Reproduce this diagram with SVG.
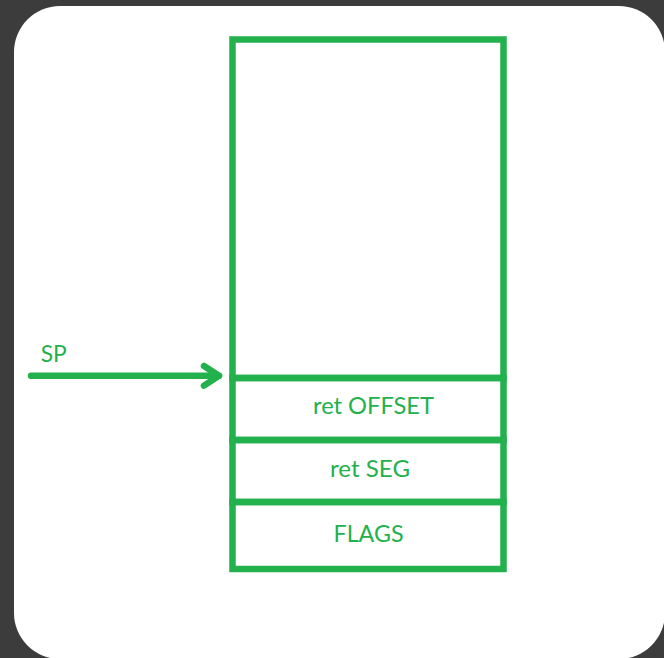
<svg xmlns="http://www.w3.org/2000/svg" width="664" height="658" viewBox="0 0 664 658">
<style>
.box{fill:none;stroke:#22b14c;stroke-width:6.5}
.lbl{fill:#22b14c;font-family:Lato,"Open Sans","Liberation Sans",sans-serif;font-size:23px;text-anchor:middle}
.conn{fill:none;stroke:#22b14c;stroke-width:6.5;stroke-linecap:round;stroke-linejoin:round}
</style>
<rect x="0" y="0" width="664" height="658" fill="#3c3c3c"/>
<rect x="14" y="6" width="651" height="653" rx="46" ry="46" fill="#ffffff"/>
<g id="stack-free"><rect class="box" x="232.5" y="39.5" width="271" height="338.5"/></g>
<g id="ret-offset"><rect class="box" x="232.5" y="378" width="271" height="62"/><text class="lbl" x="373.5" y="414" textLength="121" lengthAdjust="spacingAndGlyphs">ret OFFSET</text></g>
<g id="ret-seg"><rect class="box" x="232.5" y="440" width="271" height="62"/><text class="lbl" x="370" y="476.5" textLength="80" lengthAdjust="spacingAndGlyphs">ret SEG</text></g>
<g id="flags"><rect class="box" x="232.5" y="502" width="271" height="67"/><text class="lbl" x="368.5" y="541.5" textLength="70" lengthAdjust="spacingAndGlyphs">FLAGS</text></g>
<g id="sp"><text class="lbl" x="53.7" y="361.5" textLength="26" lengthAdjust="spacingAndGlyphs">SP</text></g>
<g id="connectors">
<line class="conn" x1="31" y1="375.8" x2="219" y2="375.8"/>
<polyline class="conn" points="204,366 219,375.8 204,385.6"/>
</g>
</svg>
